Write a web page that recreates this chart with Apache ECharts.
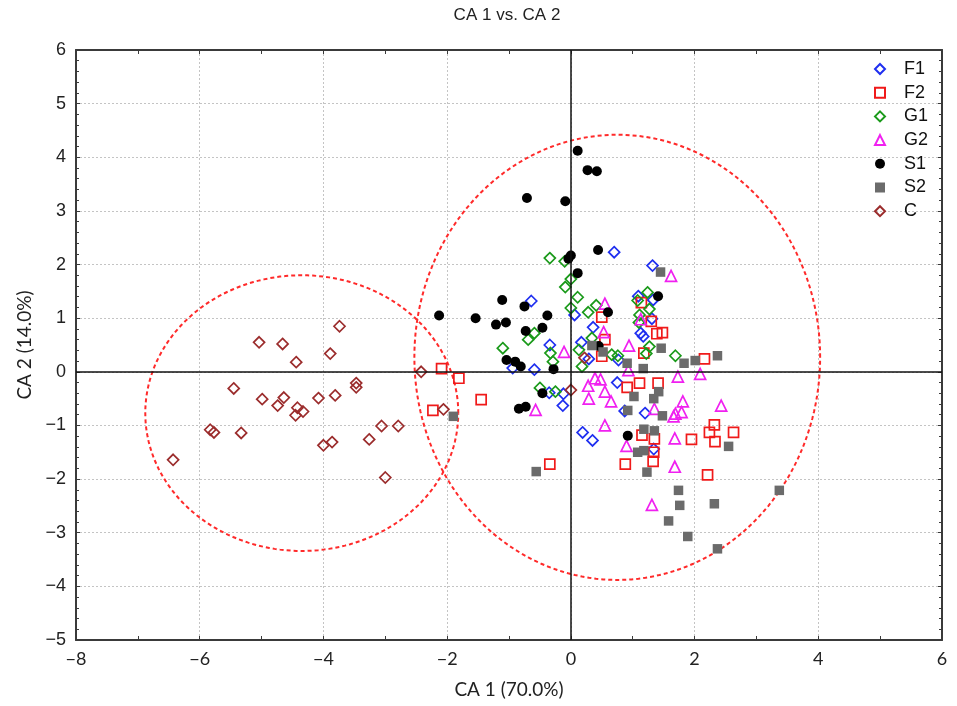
<!DOCTYPE html>
<html><head><meta charset="utf-8">
<script src="https://cdn.jsdelivr.net/npm/echarts@6/dist/echarts.min.js"></script>
<style>html,body{margin:0;padding:0;background:#fff}#c{width:957px;height:706px}</style>
</head><body><div id="c"></div>
<script>
const groupNames = ['F1','F2','G1','G2','S1','S2','C'];
const xTicks = [-8,-6,-4,-2,0,2,4,6];
const yTicks = [-5,-4,-3,-2,-1,0,1,2,3,4,5,6];

const f1 = [[0.7,2.23],[1.32,1.98],[-0.64,1.32],[1.09,1.41],[1.33,1.34],[0.06,1.06],[0.36,0.83],[1.13,0.72],[1.17,0.66],[1.31,0.99],[-0.34,0.5],[0.17,0.55],[0.77,0.22],[0.29,0.24],[-0.94,0.07],[-0.59,0.04],[0.75,-0.2],[-0.35,-0.39],[-0.12,-0.41],[-0.13,-0.63],[1.2,-0.77],[0.87,-0.73],[0.19,-1.13],[0.35,-1.28],[1.34,-1.44]];
const f2 = [[-2.09,0.06],[-1.81,-0.12],[-1.45,-0.52],[-2.23,-0.72],[-0.34,-1.72],[1.14,1.29],[0.5,1.02],[1.3,0.94],[1.39,0.71],[1.48,0.73],[0.55,0.6],[0.5,0.29],[1.18,0.35],[2.16,0.24],[0.91,-0.29],[1.11,-0.21],[1.41,-0.21],[1.15,-1.18],[1.35,-1.25],[1.34,-1.5],[1.33,-1.67],[0.88,-1.72],[1.95,-1.26],[2.24,-1.13],[2.32,-0.99],[2.33,-1.3],[2.63,-1.13],[2.21,-1.92]];
const g1 = [[-0.34,2.12],[-0.1,2.06],[0.0,1.73],[-0.09,1.58],[0.11,1.39],[0.0,1.19],[0.28,1.11],[0.41,1.24],[1.08,1.33],[1.24,1.48],[1.27,1.17],[1.11,1.06],[1.1,0.92],[1.27,0.47],[1.22,0.34],[1.69,0.3],[0.66,0.32],[0.76,0.3],[0.18,0.1],[0.13,0.41],[-0.33,0.35],[-0.29,0.19],[-0.59,0.72],[-0.69,0.6],[-1.1,0.44],[-0.5,-0.3],[-0.25,-0.37],[0.34,0.63]];
const g2 = [[1.62,1.79],[0.55,1.27],[1.13,0.98],[0.53,0.74],[0.94,0.49],[-0.11,0.37],[1.73,-0.09],[2.09,-0.04],[0.39,-0.12],[0.48,-0.14],[0.28,-0.26],[0.55,-0.37],[0.29,-0.5],[0.65,-0.55],[1.81,-0.55],[2.43,-0.63],[-0.57,-0.71],[1.35,-0.69],[1.79,-0.75],[1.66,-0.83],[1.69,-0.78],[0.55,-1.0],[0.9,-1.38],[1.68,-1.24],[1.68,-1.77],[1.31,-2.48],[0.93,0.03]];
const s1 = [[0.11,4.12],[0.27,3.76],[0.42,3.74],[-0.71,3.24],[-0.09,3.18],[0.44,2.27],[0.0,2.17],[-0.04,2.11],[0.11,1.84],[0.6,1.11],[1.41,1.41],[-2.13,1.05],[-1.54,1.0],[-1.11,1.34],[-0.75,1.22],[-0.38,1.05],[-1.21,0.88],[-1.05,0.92],[-0.73,0.76],[-0.46,0.82],[-1.04,0.22],[-0.9,0.19],[-0.81,0.1],[-0.28,0.05],[-0.46,-0.4],[-0.84,-0.69],[-0.73,-0.65],[0.92,-1.19],[0.45,0.48]];
const s2 = [[1.45,1.86],[0.34,0.49],[0.52,0.37],[0.91,0.16],[1.17,0.06],[1.46,0.44],[1.83,0.16],[2.01,0.21],[2.37,0.3],[1.02,-0.46],[1.42,-0.37],[1.34,-0.5],[0.92,-0.72],[1.48,-0.82],[1.18,-1.07],[1.35,-1.1],[1.08,-1.5],[1.18,-1.47],[1.23,-1.87],[2.55,-1.39],[1.74,-2.21],[1.76,-2.49],[2.32,-2.46],[1.58,-2.78],[1.89,-3.07],[2.37,-3.3],[3.37,-2.21],[-1.9,-0.83],[-0.56,-1.86]];
const c = [[-3.74,0.85],[-5.04,0.55],[-4.66,0.52],[-3.89,0.34],[-4.44,0.18],[-2.42,0.0],[-5.45,-0.31],[-3.47,-0.21],[-3.47,-0.29],[-4.99,-0.51],[-4.64,-0.48],[-3.81,-0.44],[-4.08,-0.49],[-4.74,-0.63],[-4.42,-0.67],[-4.33,-0.74],[-4.45,-0.81],[-5.83,-1.08],[-5.77,-1.13],[-5.33,-1.14],[-3.06,-1.01],[-2.79,-1.01],[-3.26,-1.26],[-4.0,-1.37],[-3.86,-1.31],[-6.43,-1.64],[-3.0,-1.97],[-2.06,-0.70],[0.0,-0.34],[0.22,0.26]];

// ellipse parameters: [centerX, centerY, semiAxisX, semiAxisY]
const ellipseLeft = [-4.35, -0.77, 2.53, 2.57];
const ellipseRight = [0.75, 0.27, 3.28, 4.15];

const groupData = [f1, f2, g1, g2, s1, s2, c];
const symbols = ['diamond','rect','diamond','triangle','circle','rect','diamond'];
const sizes = [11, 10, 11, 11, 10, 9.5, 11];
const colors = ['#1f2ff0','#f01a1a','#1a9a1a','#f020f0','#000000','#6b6b6b','#9b2c2c'];
const filled = [false,false,false,false,true,true,false];

const chart = echarts.init(document.getElementById('c'));
const series = groupNames.map((n,i) => ({
  name: n, type: 'scatter', data: groupData[i], symbol: symbols[i], symbolSize: sizes[i],
  itemStyle: filled[i] ? {color: colors[i], borderWidth: 0, opacity: 1}
                       : {color: 'rgba(255,255,255,0)', borderColor: colors[i], borderWidth: 1.7, opacity: 1},
  z: 3, silent: true
}));
series.unshift({
  type: 'custom', name: 'ellipses', data: [ellipseLeft, ellipseRight], silent: true, z: 2,
  clip: false,
  renderItem: function(params, api) {
    const cx = api.value(0), cy = api.value(1), a = api.value(2), b = api.value(3);
    const pts = [];
    for (let k = 0; k <= 180; k++) {
      const t = k / 180 * Math.PI * 2;
      pts.push(api.coord([cx + a * Math.cos(t), cy + b * Math.sin(t)]));
    }
    return {type: 'polyline', shape: {points: pts}, style: {fill: null, stroke: '#ff2a2a', lineWidth: 2, lineDash: [4, 3]}};
  },
  encode: {x: 0, y: 1}
});
series.push({
  type: 'scatter', data: [], silent: true,
  markLine: {silent: true, symbol: 'none', label: {show: false},
    lineStyle: {color: '#111', type: 'solid', width: 1.5},
    data: [{xAxis: 0}, {yAxis: 0}]}, z: 1
});

const axisCommon = {
  axisLine: {show: true, onZero: false, lineStyle: {color: '#3a3a3a', width: 2}},
  axisTick: {show: true, inside: true, length: 4, lineStyle: {color: '#3a3a3a'}},
};
chart.setOption({
  animation: false,
  graphic: [{type: 'text', x: 507, y: 15, style: {text: 'CA 1 vs. CA 2', fontFamily: 'Liberation Sans', fontSize: 17, fill: '#222', textAlign: 'center', textVerticalAlign: 'middle'}}],
  legend: {
    data: groupNames, orient: 'vertical', left: 869, top: 55, itemWidth: 10, itemHeight: 10, itemGap: 5.7,
    textStyle: {fontFamily: 'Liberation Sans', fontSize: 18, color: '#111', padding: [0,0,0,14], lineHeight: 17}
  },
  grid: {left: 76, right: 15, top: 50, bottom: 66},
  xAxis: [
    Object.assign({type: 'value', min: xTicks[0], max: xTicks[xTicks.length-1], interval: 2, position: 'bottom',
      minorTick: {show: true, splitNumber: 2, length: 4, lineStyle: {color: '#3a3a3a'}},
      splitLine: {show: true, lineStyle: {color: '#c4c4c4', type: [2,2], width: 1}},
      axisLabel: {fontFamily: 'Lato', fontSize: 18, color: '#222', margin: 10, formatter: v => v < 0 ? '\u2212' + Math.abs(v) : String(v)},
      name: 'CA 1 (70.0%)', nameLocation: 'middle', nameGap: 40,
      nameTextStyle: {fontFamily: 'Lato', fontSize: 19, color: '#222'}}, axisCommon),
    Object.assign({type: 'value', min: xTicks[0], max: xTicks[xTicks.length-1], interval: 2, position: 'top',
      minorTick: {show: true, splitNumber: 2, length: 4, lineStyle: {color: '#3a3a3a'}},
      splitLine: {show: false}, axisLabel: {show: false}}, axisCommon)
  ],
  yAxis: [
    Object.assign({type: 'value', min: yTicks[0], max: yTicks[yTicks.length-1], interval: 1, position: 'left',
      minorTick: {show: true, splitNumber: 5, length: 3, lineStyle: {color: '#3a3a3a'}},
      splitLine: {show: true, lineStyle: {color: '#c4c4c4', type: [2,2], width: 1}},
      axisLabel: {fontFamily: 'Liberation Sans', fontSize: 18, color: '#222', margin: 10, formatter: v => v < 0 ? '\u2212' + Math.abs(v) : String(v)},
      name: 'CA 2 (14.0%)', nameLocation: 'middle', nameGap: 38,
      nameTextStyle: {fontFamily: 'Lato', fontSize: 19, color: '#222'}}, axisCommon),
    Object.assign({type: 'value', min: yTicks[0], max: yTicks[yTicks.length-1], interval: 1, position: 'right',
      minorTick: {show: true, splitNumber: 5, length: 3, lineStyle: {color: '#3a3a3a'}},
      splitLine: {show: false}, axisLabel: {show: false}}, axisCommon)
  ],
  series: series
});
</script></body></html>
